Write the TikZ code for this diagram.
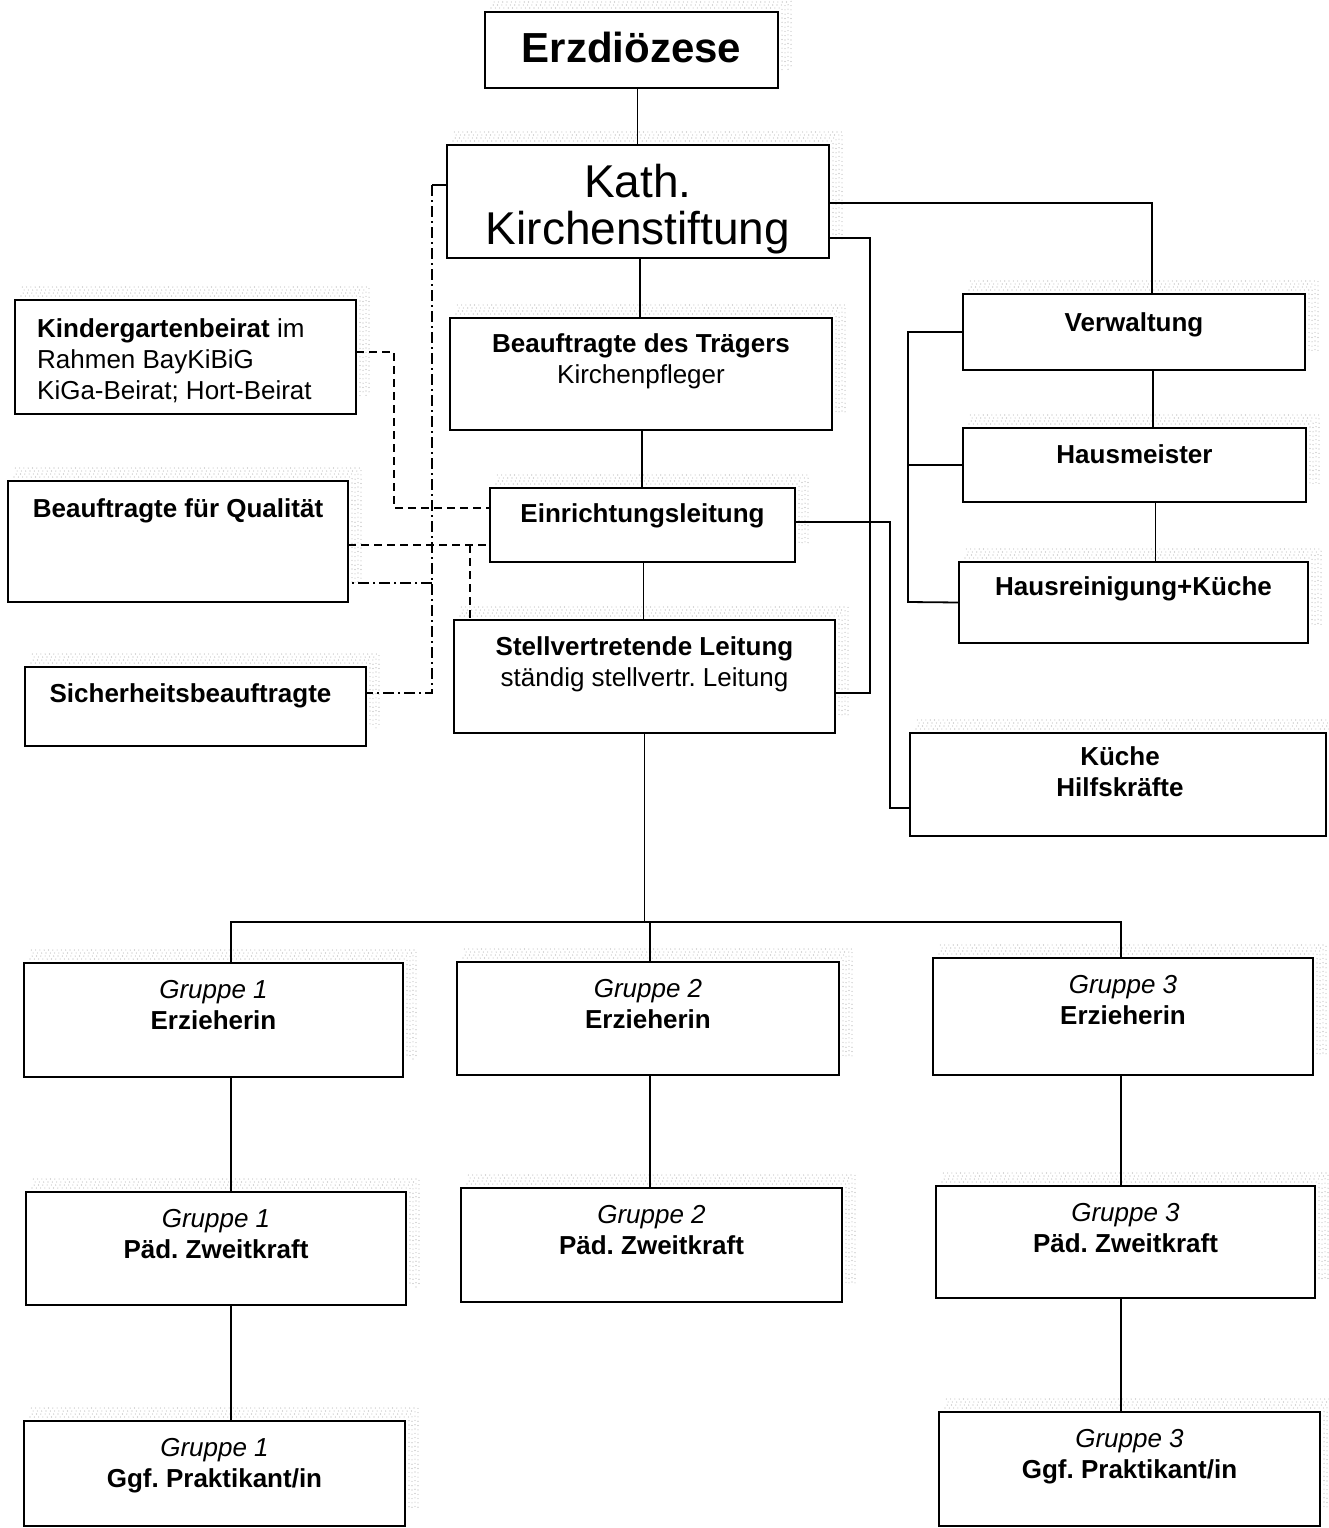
\documentclass[tikz,border=0pt]{standalone}
\usepackage{fontspec}
\setmainfont{Liberation Sans}
\usetikzlibrary{backgrounds}
\frenchspacing
\newcommand\orgbox[5]{\node[box, minimum width={(#4-#2)*1pt}, minimum height={(#5-#3)*1pt}] (#1) at ({(#2+#4)/2},{(#3+#5)/2}) {};}
\newcommand\stipline[3]{\draw[stipple, dash phase=#3] ([xshift=6pt,yshift=#2]#1.north west) -- ([xshift=#2,yshift=#2]#1.north east) -- ([xshift=#2,yshift=18pt]#1.south east);}
\newcommand\stip[1]{\stipline{#1}{4pt}{0pt}\stipline{#1}{7pt}{2.1pt}\stipline{#1}{10pt}{1.2pt}\stipline{#1}{13pt}{3pt}}
\begin{document}
\frenchspacing
\begin{tikzpicture}[x=1pt,y=-1pt,
  box/.style={draw, line width=1.7pt, outer sep=0pt, inner sep=0pt, fill=white},
  txt/.style={inner sep=0pt, align=center, font=\fontsize{26}{31}\selectfont},
  conn/.style={line width=1.8pt},
  dsh/.style={line width=1.7pt, dash pattern=on 8pt off 5pt},
  dshdot/.style={line width=1.7pt, dash pattern=on 11pt off 4pt on 2pt off 4pt},
  stipple/.style={draw=black!30, line width=1.1pt, line cap=round, dash pattern=on 0pt off 4.3pt}]
\useasboundingbox (0,0) rectangle (1328,1528);

% boxes
\orgbox{erz}{485}{12}{778}{88}
\orgbox{kirch}{447}{145}{829}{258}
\orgbox{beauf}{450}{318}{832}{430}
\orgbox{einr}{490}{488}{795}{562}
\orgbox{stv}{454}{620}{835}{733}
\orgbox{kgb}{15}{300}{356}{414}
\orgbox{qual}{8}{481}{348}{602}
\orgbox{sich}{25}{667}{366}{746}
\orgbox{verw}{963}{294}{1305}{370}
\orgbox{haus}{963}{428}{1306}{502}
\orgbox{hrein}{959}{562}{1308}{643}
\orgbox{kuche}{910}{733}{1326}{836}
\orgbox{gae}{24}{963}{403}{1077}
\orgbox{gbe}{457}{962}{839}{1075}
\orgbox{gce}{933}{958}{1313}{1075}
\orgbox{gap}{26}{1192}{406}{1305}
\orgbox{gbp}{461}{1188}{842}{1302}
\orgbox{gcp}{936}{1186}{1315}{1298}
\orgbox{gag}{24}{1421}{405}{1526}
\orgbox{gcg}{939}{1412}{1320}{1526}

% white page and scan shadows
\begin{pgfonlayer}{background}
\fill[white] (0,0) rectangle (1328,1528);
\foreach \b in {erz,kirch,beauf,einr,stv,kgb,qual,sich,verw,haus,hrein,kuche,gae,gbe,gce,gap,gbp,gcp,gag,gcg}{\stip{\b}}
\end{pgfonlayer}

% texts
\node[txt, anchor=north, font=\bfseries\fontsize{42}{47}\selectfont] (erzt) at ([yshift=-20pt]erz.north) {Erzdiözese};
\node[txt, anchor=north, font=\fontsize{46}{47}\selectfont] (kircht) at ([yshift=-19pt]kirch.north) {Kath.\\Kirchenstiftung};
\node[txt, anchor=north] (beauft) at ([yshift=-15pt]beauf.north) {\textbf{Beauftragte des Trägers}\\Kirchenpfleger};
\node[txt, anchor=north] (einrt) at ([yshift=-15pt]einr.north) {\textbf{Einrichtungsleitung}};
\node[txt, anchor=north] (stvt) at ([yshift=-16pt]stv.north) {\textbf{Stellvertretende Leitung}\\ständig stellvertr. Leitung};
\node[txt, anchor=north west, align=left] (kgbt) at ([xshift=22pt,yshift=-18pt]kgb.north west) {\textbf{Kindergartenbeirat} im\\Rahmen BayKiBiG\\KiGa-Beirat; Hort-Beirat};
\node[txt, anchor=north] (qualt) at ([yshift=-17pt]qual.north) {\textbf{Beauftragte für Qualität}};
\node[txt, anchor=north] (sicht) at ([xshift=-5pt,yshift=-16pt]sich.north) {\textbf{Sicherheitsbeauftragte}};
\node[txt, anchor=north] (verwt) at ([yshift=-18pt]verw.north) {\textbf{Verwaltung}};
\node[txt, anchor=north] (haust) at ([yshift=-16pt]haus.north) {\textbf{Hausmeister}};
\node[txt, anchor=north] (hreint) at ([yshift=-14pt]hrein.north) {\textbf{Hausreinigung+Küche}};
\node[txt, anchor=north] (kuchet) at ([xshift=2pt,yshift=-13pt]kuche.north) {\textbf{Küche}\\\textbf{Hilfskräfte}};
\node[txt, anchor=north] (gaet) at ([yshift=-17pt]gae.north) {\textit{Gruppe 1}\\\textbf{Erzieherin}};
\node[txt, anchor=north] (gbet) at ([yshift=-17pt]gbe.north) {\textit{Gruppe 2}\\\textbf{Erzieherin}};
\node[txt, anchor=north] (gcet) at ([yshift=-17pt]gce.north) {\textit{Gruppe 3}\\\textbf{Erzieherin}};
\node[txt, anchor=north] (gapt) at ([yshift=-17pt]gap.north) {\textit{Gruppe 1}\\\textbf{Päd. Zweitkraft}};
\node[txt, anchor=north] (gbpt) at ([yshift=-17pt]gbp.north) {\textit{Gruppe 2}\\\textbf{Päd. Zweitkraft}};
\node[txt, anchor=north] (gcpt) at ([yshift=-17pt]gcp.north) {\textit{Gruppe 3}\\\textbf{Päd. Zweitkraft}};
\node[txt, anchor=north] (gagt) at ([yshift=-17pt]gag.north) {\textit{Gruppe 1}\\\textbf{Ggf. Praktikant/in}};
\node[txt, anchor=north] (gcgt) at ([yshift=-17pt]gcg.north) {\textit{Gruppe 3}\\\textbf{Ggf. Praktikant/in}};

% main chain
\draw[conn] ([xshift=6pt]erz.south) -- ([xshift=6pt]erz.south |- kirch.north);
\draw[conn] ([xshift=2pt]kirch.south) -- ([xshift=2pt]kirch.south |- beauf.north);
\draw[conn] ([xshift=1pt]beauf.south) -- ([xshift=1pt]beauf.south |- einr.north);
\draw[conn] ([xshift=1pt]einr.south) -- ([xshift=1pt]einr.south |- stv.north);

% bus to groups
\coordinate (busA) at (231,922);
\coordinate (busB) at (650,922);
\coordinate (busC) at (1121,922);
\draw[conn] (stv.south) -- (stv.south |- busA);
\draw[conn] (busA |- gae.north) -- (busA) -- (busC) -- (busC |- gce.north);
\draw[conn] (busB) -- (busB |- gbe.north);
\draw[conn] (busA |- gae.south) -- (busA |- gap.north);
\draw[conn] (busA |- gap.south) -- (busA |- gag.north);
\draw[conn] (busB |- gbe.south) -- (busB |- gbp.north);
\draw[conn] (busC |- gce.south) -- (busC |- gcp.north);
\draw[conn] (busC |- gcp.south) -- (busC |- gcg.north);

% right side
\draw[conn] (kirch.east |- 0,203) -| ([xshift=18pt]verw.north);
\draw[conn] (kirch.east |- 0,238) -- (870,238) -- (870,693) -- (stv.east |- 0,693);
\draw[conn] (einr.east |- 0,522) -- (890,522) -- (890,808) -- (kuche.west |- 0,808);
\draw[conn] (verw.west) -- (908,332) -- (908,602) -- (hrein.west);
\draw[conn] (908,465) -- (haus.west);
\draw[conn] ([xshift=19pt]verw.south) -- ([xshift=19pt]verw.south |- haus.north);
\draw[conn] ([xshift=21pt]haus.south) -- ([xshift=21pt]haus.south |- hrein.north);

% left side dashed
\draw[dsh] (kgb.east |- 0,352) -- (394,352) -- (394,508) -- (einr.west |- 0,508);
\draw[dsh] (qual.east |- 0,545) -- (einr.west |- 0,545);
\draw[dsh] (470,545) -- (470,545 |- stv.north);
\draw[conn] (kirch.west |- 0,185) -- (432,185);
\draw[dshdot] (432,185) -- (432,693) -- (sich.east |- 0,693);
\draw[dshdot] (432,583) -- (qual.east |- 0,583);
\end{tikzpicture}
\end{document}
